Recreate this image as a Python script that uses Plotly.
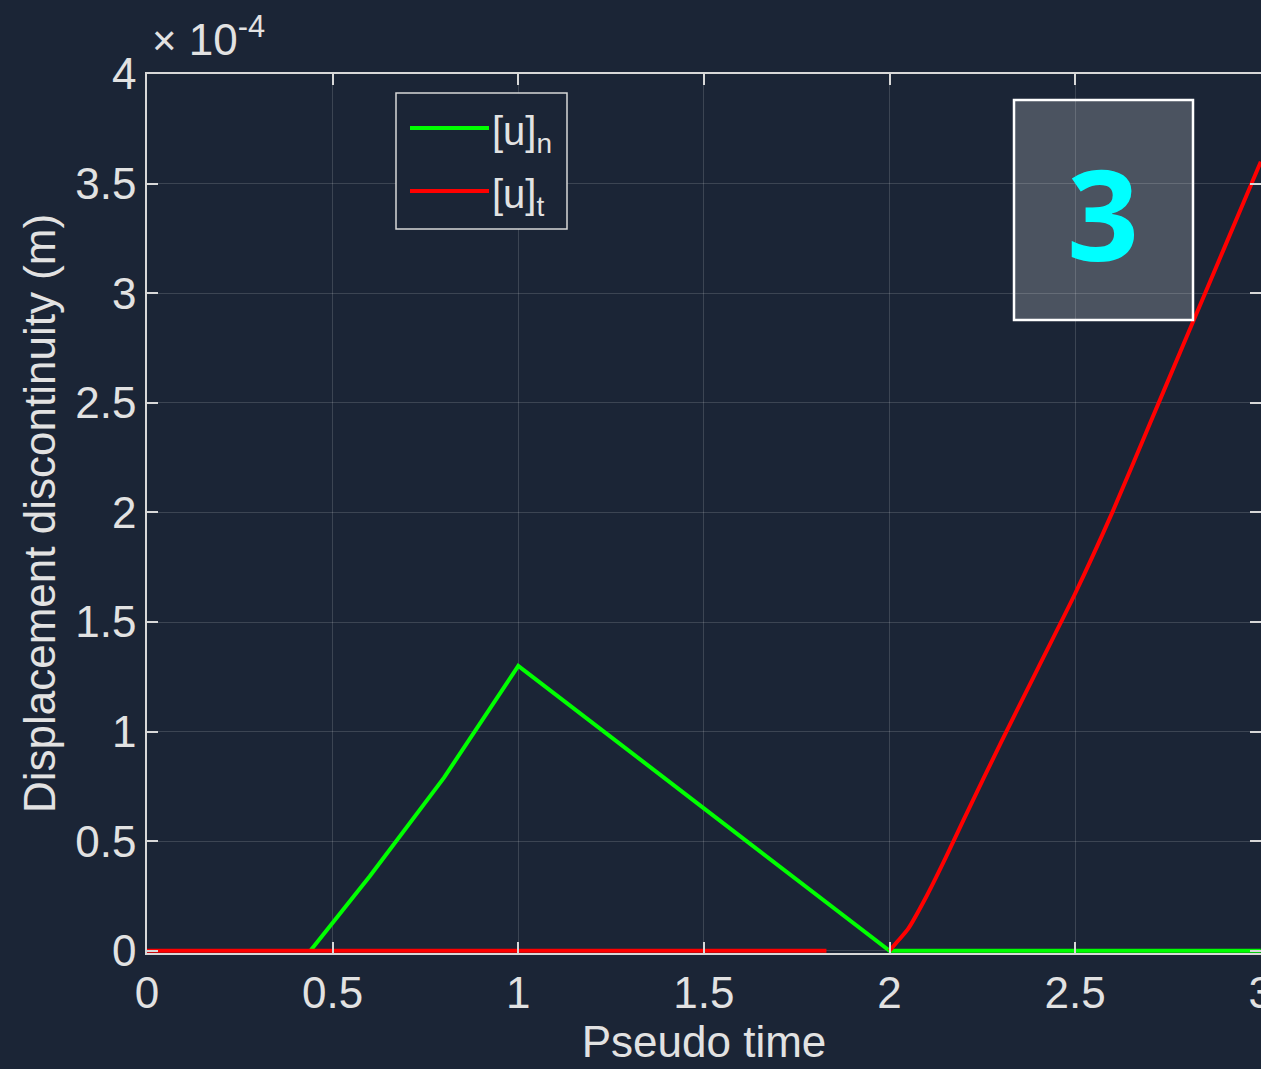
import plotly.graph_objects as go

# ---- data (values in units of 1e-4 m) ----
un_x = [0.44, 0.6, 0.8, 1.0, 1.5, 2.0, 2.5, 3.0]
un_y = [0.0, 0.34, 0.79, 1.30, 0.65, 0.0, 0.0, 0.0]

ut_x1 = [0.0, 0.5, 1.0, 1.5, 1.83]
ut_y1 = [0.0, 0.0, 0.0, 0.0, 0.0]
ut_x2 = [2.0, 2.02, 2.05, 2.1, 2.15, 2.2, 2.3, 2.4, 2.5, 2.6, 2.7, 2.8, 2.9, 3.0]
ut_y2 = [0.0, 0.04, 0.10, 0.25, 0.42, 0.60, 0.95, 1.29, 1.63, 2.00, 2.40, 2.80, 3.20, 3.60]

scale = 1e-4
x_ticks = [0, 0.5, 1, 1.5, 2, 2.5, 3]
x_ticklabels = ["0", "0.5", "1", "1.5", "2", "2.5", "3"]
y_ticks = [0, 0.5, 1, 1.5, 2, 2.5, 3, 3.5, 4]
y_ticklabels = ["0", "0.5", "1", "1.5", "2", "2.5", "3", "3.5", "4"]

BG = "#1b2536"
TXT = "#e2e2e2"
GREEN = "#00ff00"
RED = "#ff0000"

fig = go.Figure()
fig.add_trace(go.Scatter(x=un_x, y=[v * scale for v in un_y], mode="lines",
                         line=dict(color=GREEN, width=4), name="[u]n", showlegend=False))
fig.add_trace(go.Scatter(x=ut_x1, y=[v * scale for v in ut_y1], mode="lines",
                         line=dict(color=RED, width=4), name="[u]t", showlegend=False))
fig.add_trace(go.Scatter(x=ut_x2, y=[v * scale for v in ut_y2], mode="lines",
                         line=dict(color=RED, width=4, shape="spline", smoothing=0.6),
                         name="[u]t", showlegend=False))

L, R, T, B = 147, 0, 74, 116
W, H = 1261, 1069
pw, ph = W - L - R, H - T - B


def px(x):
    return (x - L) / pw


def py(y):
    return (H - B - y) / ph


FONT = "Liberation Sans"
axis_common = dict(
    showline=True, linecolor="#d8d8d8", linewidth=1.5, mirror="ticks",
    ticks="inside", ticklen=11, tickcolor="#d8d8d8", tickwidth=1.5,
    showgrid=True, gridcolor="rgba(255,255,255,0.15)", gridwidth=1,
    zeroline=False, tickfont=dict(family=FONT, size=44, color=TXT),
    ticklabeloverflow="allow", automargin=False,
)

fig.update_layout(
    width=W, height=H,
    margin=dict(l=L, r=R, t=T, b=B),
    paper_bgcolor=BG, plot_bgcolor=BG,
    font=dict(family=FONT, color=TXT),
    xaxis=dict(range=[0, 3.0005], tickvals=x_ticks, ticktext=x_ticklabels,
               title=dict(text="Pseudo time", font=dict(size=44, color=TXT), standoff=9),
               **axis_common),
    yaxis=dict(range=[-0.01 * scale, 4 * scale], tickvals=[v * scale for v in y_ticks], ticktext=y_ticklabels,
               title=dict(text="Displacement discontinuity (m)", font=dict(size=44, color=TXT), standoff=6),
               **axis_common),
)

# exponent label
fig.add_annotation(xref="paper", yref="paper", x=px(150), y=py(66), xanchor="left", yanchor="bottom",
                   text="<span style='font-size:42px'>×</span> 10<sup>-4</sup>", showarrow=False,
                   font=dict(family=FONT, size=44, color=TXT))

# manual legend
fig.add_shape(type="rect", xref="paper", yref="paper", x0=px(396), x1=px(567), y0=py(229), y1=py(93),
              line=dict(color="#d8d8d8", width=1.5), fillcolor=BG, layer="above")
for yy, col, sub in [(128, GREEN, "n"), (191, RED, "t")]:
    fig.add_shape(type="line", xref="paper", yref="paper", x0=px(410), x1=px(489), y0=py(yy), y1=py(yy),
                  line=dict(color=col, width=4), layer="above")
    fig.add_annotation(xref="paper", yref="paper", x=px(490), y=py(yy + 6), xanchor="left", yanchor="middle",
                       text="[u]<sub>" + sub + "</sub>", showarrow=False,
                       font=dict(family=FONT, size=40, color=TXT))

# "3" badge
fig.add_shape(type="rect", xref="paper", yref="paper", x0=px(1014), x1=px(1193), y0=py(320), y1=py(100),
              line=dict(color="white", width=2.5), fillcolor="rgba(255,255,255,0.21)", layer="above")
fig.add_annotation(xref="paper", yref="paper", x=px(1103), y=py(212), xanchor="center", yanchor="middle",
                   text="<b>3</b>", showarrow=False,
                   font=dict(family="Noto Sans", size=126, color="#00ffff"))

fig.write_html("out.html", config={"displayModeBar": False},
               post_script="document.body.style.margin='0';document.body.style.background='%s';" % BG)
